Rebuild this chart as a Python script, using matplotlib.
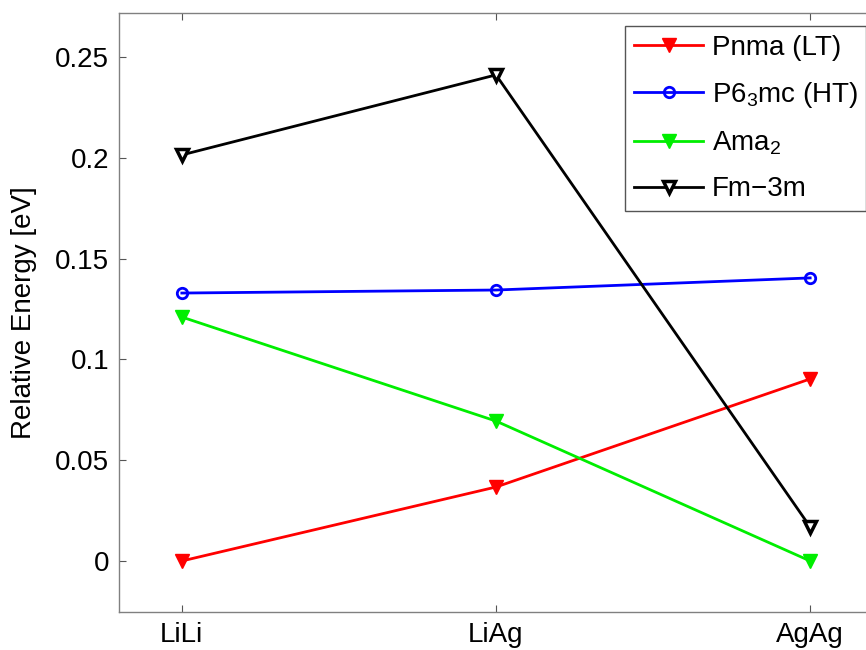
import matplotlib
matplotlib.use('Agg')
import matplotlib.pyplot as plt

plt.rcParams['font.family'] = ['Liberation Sans', 'DejaVu Sans']
plt.rcParams['mathtext.fontset'] = 'custom'
plt.rcParams['mathtext.rm'] = 'Liberation Sans'
plt.rcParams['mathtext.it'] = 'Liberation Sans'
plt.rcParams['mathtext.default'] = 'regular'

# data
configs = ['LiLi', 'LiAg', 'AgAg']
xpos = [1, 2, 3]
pnma = [0.0, 0.0367, 0.0903]
p63mc = [0.1329, 0.1344, 0.1404]
ama2 = [0.1210, 0.0694, 0.0]
fm3m = [0.2014, 0.2411, 0.0169]
yticks = [0, 0.05, 0.1, 0.15, 0.2, 0.25]
ytick_labels = ['0', '0.05', '0.1', '0.15', '0.2', '0.25']

W, H = 866, 650
fig = plt.figure(figsize=(W / 100, H / 100), dpi=100)
ax = fig.add_axes([119 / W, (H - 612) / H, (873 - 119) / W, (612 - 13) / H])

lw = 2.0
ax.plot(xpos, pnma, color='#ff0000', lw=lw, marker='v', ms=10,
        mfc='#ff0000', mec='#ff0000', label='Pnma (LT)')
ax.plot(xpos, p63mc, color='#0000ff', lw=lw, marker='o', ms=7.5,
        mfc='none', mec='#0000ff', mew=2, label='P6$_3$mc (HT)')
ax.plot(xpos, ama2, color='#00ee00', lw=lw, marker='v', ms=10,
        mfc='#00ee00', mec='#00ee00', label='Ama$_2$')
ax.plot(xpos, fm3m, color='black', lw=lw, marker='v', ms=8.5,
        mfc='white', mec='black', mew=2.5, label='Fm\u22123m')

ax.set_xlim(0.8, 3.2)
ax.set_ylim(-0.0253, 0.2718)
ax.set_xticks(xpos)
ax.set_xticklabels(configs)
ax.set_yticks(yticks)
ax.set_yticklabels(ytick_labels)
ax.tick_params(direction='in', length=5, width=0.8, color='#555555',
               top=True, right=True, labelsize=20, pad=7)
for s in ax.spines.values():
    s.set_color('#808080')
    s.set_linewidth(1.0)
ax.set_ylabel('Relative Energy [eV]', fontsize=20, labelpad=13)

leg = ax.legend(loc='upper right', bbox_to_anchor=(0.991, 0.978),
                borderaxespad=0, fontsize=20, handlelength=2.5,
                handletextpad=0.3, labelspacing=0.7, fancybox=False,
                framealpha=1, borderpad=0.3)
leg.get_frame().set_edgecolor('#555555')
leg.get_frame().set_linewidth(1.0)

fig.savefig('out.png', dpi=100)
